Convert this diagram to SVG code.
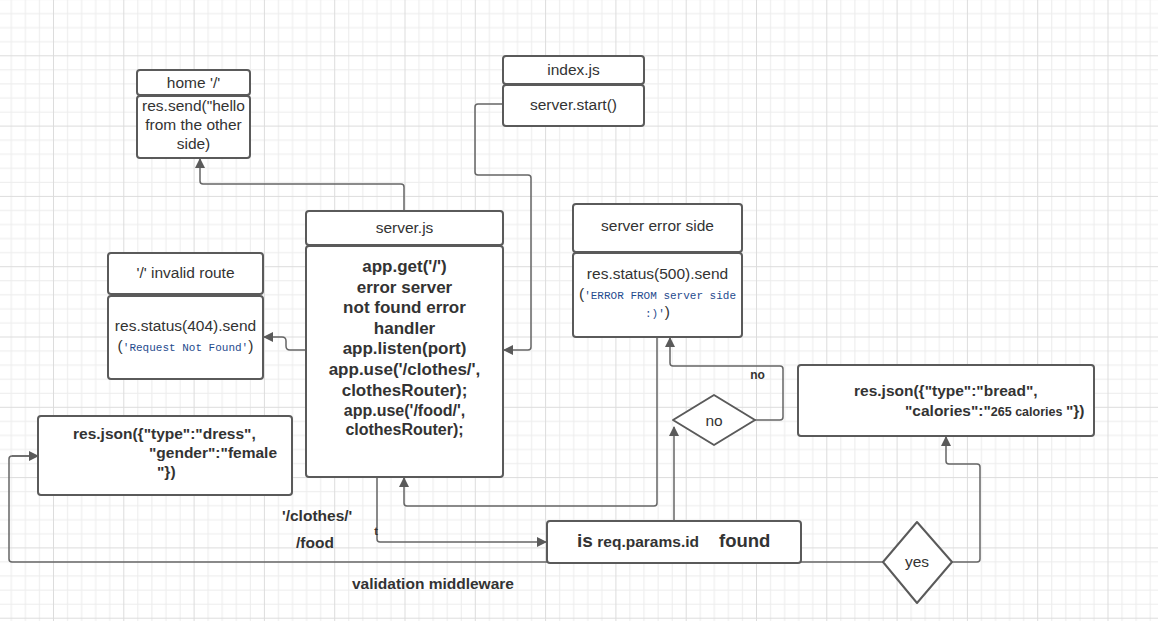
<svg xmlns="http://www.w3.org/2000/svg" width="1158" height="621" viewBox="0 0 1158 621">
  <defs>
    <pattern id="grid" patternUnits="userSpaceOnUse" x="53" y="55.3" width="70.3" height="70.3">
      <g fill="#ececec">
        <rect x="14.06" y="0" width="1" height="70.3"/>
        <rect x="28.12" y="0" width="1" height="70.3"/>
        <rect x="42.18" y="0" width="1" height="70.3"/>
        <rect x="56.24" y="0" width="1" height="70.3"/>
        <rect x="0" y="14.06" width="70.3" height="1"/>
        <rect x="0" y="28.12" width="70.3" height="1"/>
        <rect x="0" y="42.18" width="70.3" height="1"/>
        <rect x="0" y="56.24" width="70.3" height="1"/>
      </g>
      <g fill="#dcdcdc">
        <rect x="0" y="0" width="1" height="70.3"/>
        <rect x="0" y="0" width="70.3" height="1"/>
      </g>
    </pattern>
    <marker id="arrow" viewBox="0 0 10 10" refX="9" refY="5" markerWidth="10" markerHeight="10" markerUnits="userSpaceOnUse" orient="auto">
      <path d="M0,0 L10,5 L0,10 Z" fill="#5a5a5a"/>
    </marker>
  </defs>
  <style>
    .box { fill: #ffffff; stroke: #5a5a5a; stroke-width: 2; }
    .dia { fill: #ffffff; stroke: #5a5a5a; stroke-width: 2; stroke-linejoin: round; }
    .wire { fill: none; stroke: #666666; stroke-width: 1.5; }
    .arr { marker-end: url(#arrow); }
    text { font-family: "Liberation Sans", Arial, sans-serif; fill: #333333; }
    .t { font-size: 15.5px; text-anchor: middle; }
    .b { font-weight: bold; }
    .mono { font-family: "Liberation Mono", "Courier New", monospace; font-size: 11px; fill: #1f4b8e; }
  </style>

  <rect width="1158" height="621" fill="#ffffff"/>
  <rect width="1158" height="621" fill="url(#grid)"/>

  <!-- connectors -->
  <g id="connectors">
    <path class="wire" d="M883,562 H12 Q9,562 9,559 V459 Q9,456 12,456 H37"/>
    <path class="wire arr" d="M12,456 H38"/>
    <path class="wire arr" d="M404,211 V187 Q404,184 401,184 H203 Q200,184 200,181 V159"/>
    <path class="wire arr" d="M503,104 H478 Q475,104 475,107 V172 Q475,175 478,175 H528 Q531,175 531,178 V347 Q531,350 528,350 H504"/>
    <path class="wire arr" d="M306,350 H290 Q286,350 286,346 V341 Q286,337 282,337 H264"/>
    <path class="wire arr" d="M657,337 V503 Q657,506 654,506 H407 Q404,506 404,503 V478"/>
    <path class="wire arr" d="M377,477 V539 Q377,542 380,542 H546"/>
    <path class="wire arr" d="M674,521 V427"/>
    <path class="wire arr" d="M755,420 H780 Q783,420 783,417 V369 Q783,366 780,366 H673 Q670,366 670,363 V338"/>
    <path class="wire arr" d="M952,562 H977 Q980,562 980,559 V467 Q980,464 977,464 H949 Q946,464 946,461 V437"/>
    <text class="b" x="757.5" y="378.5" font-size="12" text-anchor="middle">no</text>
    <text class="b" x="376" y="535" font-size="11" text-anchor="middle">t</text>
  </g>

  <!-- home route -->
  <g id="home">
    <rect class="box" x="137" y="70" width="113" height="25" rx="3"/>
    <rect class="box" x="137" y="96" width="113" height="62" rx="3"/>
    <text class="t" x="193.5" y="87.5">home '/'</text>
    <text class="t" x="193.5" y="111">res.send("hello</text>
    <text class="t" x="193.5" y="130">from the other</text>
    <text class="t" x="193.5" y="149">side)</text>
  </g>

  <!-- index.js -->
  <g id="index">
    <rect class="box" x="503" y="56" width="141" height="28" rx="3"/>
    <rect class="box" x="503" y="85" width="141" height="41" rx="3"/>
    <text class="t" x="573.5" y="74.5">index.js</text>
    <text class="t" x="573.5" y="110">server.start()</text>
  </g>

  <!-- server.js -->
  <g id="server">
    <rect class="box" x="306" y="211" width="197" height="34" rx="3"/>
    <rect class="box" x="306" y="246" width="197" height="231" rx="3"/>
    <text class="t" x="404.5" y="232.5">server.js</text>
    <g class="b" font-size="17" text-anchor="middle">
      <text x="404.5" y="272">app.get('/')</text>
      <text x="404.5" y="292.5">error server</text>
      <text x="404.5" y="313">not found error</text>
      <text x="404.5" y="333.5">handler</text>
      <text x="404.5" y="354">app.listen(port)</text>
      <text x="404.5" y="374.5">app.use('/clothes/',</text>
      <text x="404.5" y="395.5">clothesRouter);</text>
    </g>
    <g class="b" font-size="16" text-anchor="middle">
      <text x="404.5" y="416">app.use('/food/',</text>
      <text x="404.5" y="435">clothesRouter);</text>
    </g>
  </g>

  <!-- invalid route -->
  <g id="invalid">
    <rect class="box" x="108" y="253" width="155" height="41" rx="3"/>
    <rect class="box" x="108" y="296" width="155" height="83" rx="3"/>
    <text class="t" x="185.5" y="278">'/' invalid route</text>
    <text class="t" x="185.5" y="331">res.status(404).send</text>
    <text class="t" x="185.5" y="351">(<tspan class="mono">'Request Not Found'</tspan>)</text>
  </g>

  <!-- server error -->
  <g id="server-error">
    <rect class="box" x="573" y="204" width="169" height="48" rx="3"/>
    <rect class="box" x="573" y="253" width="169" height="84" rx="3"/>
    <text class="t" x="657.5" y="230.5">server error side</text>
    <text class="t" x="657.5" y="279">res.status(500).send</text>
    <text class="t" x="657.5" y="298.5">(<tspan class="mono">'ERROR FROM server side</tspan></text>
    <text class="t" x="657.5" y="317"><tspan class="mono">:)'</tspan>)</text>
  </g>

  <!-- clothes response -->
  <g id="dress">
    <rect class="box" x="38" y="416" width="254" height="79" rx="3"/>
    <g class="b" font-size="15.5">
      <text x="73" y="439">res.json({"type":"dress",</text>
      <text x="149" y="458">"gender":"female</text>
      <text x="157" y="477">"})</text>
    </g>
  </g>

  <!-- food response -->
  <g id="bread">
    <rect class="box" x="798" y="365" width="296" height="71" rx="3"/>
    <g class="b" font-size="15.5">
      <text x="854" y="395.5">res.json({"type":"bread",</text>
      <text x="905" y="415.5">"calories":"<tspan font-size="12.5">265 calories </tspan>"})</text>
    </g>
  </g>

  <!-- id check -->
  <g id="check">
    <rect class="box" x="547" y="521" width="254" height="42" rx="3"/>
    <text class="b" x="577" y="547"><tspan font-size="19">is</tspan> <tspan font-size="15.5">req.params.id</tspan></text>
    <text class="b" x="719" y="547" font-size="18.5">found</text>
  </g>

  <!-- decisions -->
  <g id="no">
    <polygon class="dia" points="673,420 714,395 755,420 714,445"/>
    <text class="t" x="714" y="425.5">no</text>
  </g>
  <g id="yes">
    <polygon class="dia" points="883,562 917,522 952,562 917,603"/>
    <text class="t" x="917" y="567">yes</text>
  </g>

  <!-- route labels -->
  <g id="labels" class="b" font-size="15.5">
    <text x="282" y="521">'/clothes/'</text>
    <text x="296" y="548">/food</text>
    <text x="352" y="588.5">validation middleware</text>
  </g>
</svg>
